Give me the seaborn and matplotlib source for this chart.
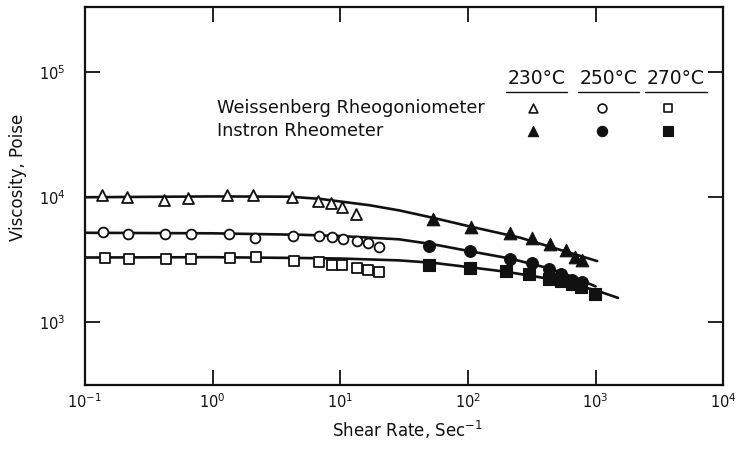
import matplotlib
matplotlib.use("Agg")
import matplotlib.pyplot as plt
from matplotlib.ticker import LogLocator, NullLocator
import numpy as np
import pandas as pd
import seaborn as sns

# ---------------- data ----------------
# Weissenberg Rheogoniometer (open symbols)
w230_x = [0.135, 0.212, 0.418, 0.645, 1.29, 2.06, 4.22, 6.7, 8.4, 10.3, 13.4]
w230_y = [10340, 10040, 9580, 9860, 10340, 10340, 10040, 9270, 8980, 8350, 7400]
w250_x = [0.139, 0.216, 0.424, 0.676, 1.35, 2.15, 4.29, 6.86, 8.67, 10.5, 13.6, 16.6, 20.2]
w250_y = [5260, 5050, 5110, 5110, 5050, 4750, 4860, 4930, 4840, 4670, 4480, 4290, 3970]
w270_x = [0.143, 0.222, 0.431, 0.676, 1.37, 2.18, 4.34, 6.86, 8.67, 10.4, 13.6, 16.6, 20.2]
w270_y = [3270, 3220, 3220, 3220, 3270, 3360, 3090, 3030, 2860, 2860, 2730, 2620, 2510]

# Instron Rheometer (filled symbols)
i230_x = [53.7, 106, 214, 320, 441, 589, 692, 781]
i230_y = [6750, 5750, 5200, 4750, 4270, 3810, 3320, 3130]
i250_x = [49.9, 103, 214, 317, 435, 535, 652, 789]
i250_y = [4050, 3750, 3220, 2990, 2690, 2420, 2190, 2120]
i270_x = [49.9, 103, 199, 303, 435, 535, 652, 767, 993]
i270_y = [2900, 2730, 2590, 2420, 2230, 2150, 2020, 1910, 1690]

# Drawn curves
c230_x = [0.1, 1, 4, 7, 10, 17, 29, 54, 106, 257, 1030]
c230_y = [10000, 10150, 10100, 9700, 9250, 8630, 7850, 6830, 5810, 4750, 3090]
c250_x = [0.1, 1, 5, 10, 29, 54, 106, 214, 441, 700, 1000]
c250_y = [5200, 5150, 5010, 4900, 4610, 4200, 3690, 3240, 2690, 2260, 1940]
c270_x = [0.1, 1, 5, 10, 29, 54, 106, 199, 435, 652, 1000, 1500]
c270_y = [3300, 3320, 3270, 3240, 3130, 2990, 2750, 2540, 2230, 2020, 1810, 1570]

temps = ["230°C", "250°C", "270°C"]
instruments = ["Weissenberg Rheogoniometer", "Instron Rheometer"]
markers = ["^", "o", "s"]

# ---------------- style ----------------
sns.set_theme(style="ticks")
plt.rcParams["font.family"] = ["DejaVu Sans"]
plt.rcParams["mathtext.default"] = "regular"
ink = "#111111"

fig = plt.figure(figsize=(7.38, 4.49), dpi=100)
ax = fig.add_axes([0.115, 0.1425, 0.865, 0.842])
ax.set_xscale("log")
ax.set_yscale("log")
ax.set_xlim(1e-1, 1e4)
ax.set_ylim(10 ** 2.5, 10 ** 5.52)

# curves
for cx, cy in [(c230_x, c230_y), (c250_x, c250_y), (c270_x, c270_y)]:
    sns.lineplot(x=cx, y=cy, ax=ax, color=ink, linewidth=1.9, sort=False,
                 estimator=None, zorder=2)

open_sizes = [62, 50, 42]
fill_sizes = [82, 72, 64]
open_sets = [(w230_x, w230_y), (w250_x, w250_y), (w270_x, w270_y)]
fill_sets = [(i230_x, i230_y), (i250_x, i250_y), (i270_x, i270_y)]
for (x, y), m, s in zip(open_sets, markers, open_sizes):
    sns.scatterplot(x=x, y=y, ax=ax, marker=m, s=s, color="white",
                    edgecolor=ink, linewidth=1.3, zorder=3)
for (x, y), m, s in zip(fill_sets, markers, fill_sizes):
    sns.scatterplot(x=x, y=y, ax=ax, marker=m, s=s, color=ink,
                    edgecolor=ink, linewidth=0.8, zorder=3)

# ticks / spines
for axis in (ax.xaxis, ax.yaxis):
    axis.set_major_locator(LogLocator(base=10, numticks=12))
    axis.set_minor_locator(NullLocator())
ax.tick_params(which="major", direction="in", length=11, width=1.3,
               top=True, right=True, labelsize=10.5, colors=ink)
ax.tick_params(axis="x", pad=5)
ax.tick_params(axis="y", pad=14)
for sp in ax.spines.values():
    sp.set_linewidth(1.6)
    sp.set_color(ink)

ax.set_xlabel("Shear Rate, Sec$^{-1}$", fontsize=12, color=ink)
ax.xaxis.label.set_va("center")
ax.xaxis.set_label_coords(0.506, -0.12)
ax.set_ylabel("Viscosity, Poise", fontsize=12, color=ink)
ax.yaxis.label.set_va("center")
ax.yaxis.set_label_coords(-0.105, 0.548)

# custom table legend
hx = [0.707, 0.820, 0.926]
for t, xx in zip(temps, hx):
    ax.text(xx, 0.81, t, transform=ax.transAxes, ha="center", va="center",
            fontsize=13.5, color=ink)
    ax.plot([xx - 0.048, xx + 0.048], [0.776, 0.776], transform=ax.transAxes,
            color=ink, lw=1.0, clip_on=False)
row_y = [0.733, 0.672]
for name, ry in zip(instruments, row_y):
    ax.text(0.207, ry, name, transform=ax.transAxes, ha="left", va="center",
            fontsize=12.8, color=ink)
sx = [0.702, 0.810, 0.914]
for m, xx in zip(markers, sx):
    ax.scatter([xx], [row_y[0]], transform=ax.transAxes, marker=m, s=40,
               facecolor="white", edgecolor=ink, linewidth=1.2, clip_on=False)
    ax.scatter([xx], [row_y[1]], transform=ax.transAxes, marker=m, s=55,
               facecolor=ink, edgecolor=ink, linewidth=0.8, clip_on=False)

fig.savefig("out.png", dpi=100, facecolor="white")
